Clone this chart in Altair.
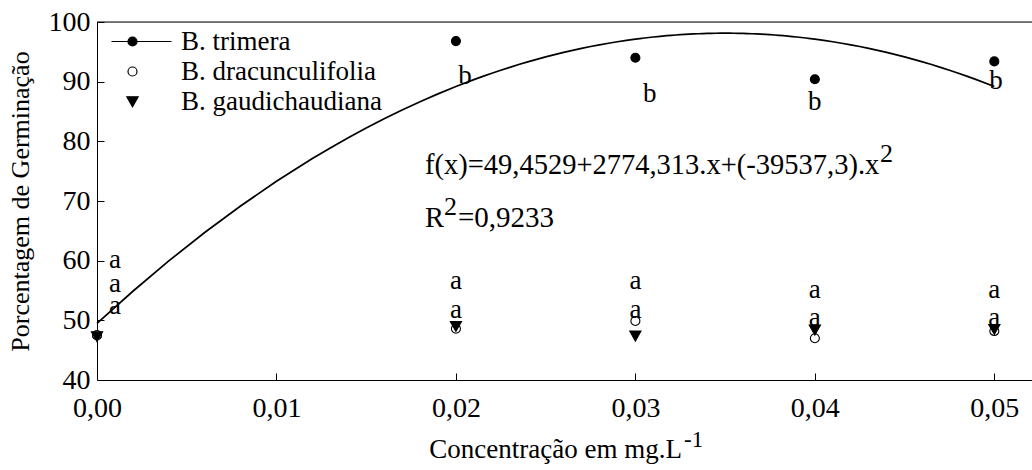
import altair as alt
import pandas as pd

FONT = "Liberation Serif"

series = ["B. trimera", "B. dracunculifolia", "B. gaudichaudiana"]
conc = [0.00, 0.02, 0.03, 0.04, 0.05]
trimera = [47.5, 96.8, 94.0, 90.4, 93.4]
dracunculifolia = [47.5, 48.6, 49.9, 47.0, 48.2]
gaudichaudiana = [47.3, 49.0, 47.4, 48.4, 48.5]

a_x = [0.001, 0.001, 0.001, 0.02, 0.02, 0.03, 0.03, 0.04, 0.04, 0.05, 0.05]
a_y = [59.8, 55.8, 52.1, 56.3, 51.4, 56.3, 51.4, 54.75, 50.1, 54.75, 50.1]
b_x = [0.0205, 0.0308, 0.040, 0.0501]
b_y = [91.1, 88.1, 86.8, 90.3]

x_ticks = [0.0, 0.01, 0.02, 0.03, 0.04, 0.05]
y_ticks = [40, 50, 60, 70, 80, 90, 100]

formula = "f(x)=49,4529+2774,313.x+(-39537,3).x"
sup2 = "2"
r_label = "R"
r_value = "=0,9233"
x_title = "Concentração em mg.L"
x_title_sup = "-1"
y_title = "Porcentagem de Germinação"

W, H = 935, 358

df = pd.DataFrame({
    "conc": conc * 3,
    "value": trimera + dracunculifolia + gaudichaudiana,
    "series": [series[0]] * 5 + [series[1]] * 5 + [series[2]] * 5,
})
df_tri = pd.DataFrame({"conc": conc, "value": trimera})
df_a = pd.DataFrame({"x": a_x, "y": a_y, "t": ["a"] * len(a_x)})
df_b = pd.DataFrame({"x": b_x, "y": b_y, "t": ["b"] * len(b_x)})

xs = alt.Scale(domain=[0, 0.0521], nice=False, zero=False)
ys = alt.Scale(domain=[40, 100], nice=False, zero=False)

label_kw = dict(labelFont=FONT, labelFontSize=28, labelColor="black",
                domainColor="black", tickColor="black", grid=False,
                labelFlush=False, labelOverlap=False)

main_x_axis = alt.Axis(orient="bottom", values=x_ticks, tickSize=0, labelPadding=14,
                       labelExpr="replace(format(datum.value, '.2f'), '.', ',')",
                       title=None, **label_kw)
main_y_axis = alt.Axis(orient="left", values=y_ticks, tickSize=0, labelPadding=7,
                       format="d", title=y_title, titleFont=FONT, titleFontSize=26,
                       titleFontWeight="normal", titleColor="black",
                       titleX=-77, titleY=H / 2, titleAngle=270,
                       titleAlign="center", titleBaseline="middle", **label_kw)
tick_x_axis = alt.Axis(orient="bottom", values=x_ticks[1:], offset=-7, tickSize=7,
                       labels=False, domain=False, title=None, grid=False,
                       tickColor="black")
tick_y_axis = alt.Axis(orient="left", values=y_ticks[1:], offset=-7, tickSize=7,
                       labels=False, domain=False, title=None, grid=False,
                       tickColor="black")

curve = alt.Chart(df_tri).transform_regression(
    "conc", "value", method="poly", order=2, extent=[0, 0.05]
).mark_line(color="black", strokeWidth=1.7).encode(
    x=alt.X("conc:Q", scale=xs, axis=tick_x_axis),
    y=alt.Y("value:Q", scale=ys, axis=tick_y_axis),
)

tri_down = "M-1.25,-1.05L1.25,-1.05L0,1.15Z"
trimera_sym = ("M-4.67,0L8.67,0M0,-1A1,1,0,1,1,0,1"
               "A1,1,0,1,1,0,-1Z")

points = alt.Chart(df).mark_point(size=81, stroke="black", strokeWidth=1.1,
                                  opacity=1).encode(
    x=alt.X("conc:Q", scale=xs, axis=main_x_axis),
    y=alt.Y("value:Q", scale=ys, axis=main_y_axis),
    shape=alt.Shape("series:N", scale=alt.Scale(domain=series,
                    range=["circle", "circle", tri_down]), legend=None),
    fill=alt.Fill("series:N", scale=alt.Scale(domain=series,
                  range=["black", "white", "black"]), legend=None),
)

a_text = alt.Chart(df_a).mark_text(font=FONT, fontSize=27, color="black",
                                   baseline="alphabetic", dy=6).encode(
    x=alt.X("x:Q", scale=xs, axis=None),
    y=alt.Y("y:Q", scale=ys, axis=None),
    text="t:N",
)
b_text = alt.Chart(df_b).mark_text(font=FONT, fontSize=27, color="black",
                                   baseline="alphabetic", dy=9).encode(
    x=alt.X("x:Q", scale=xs, axis=None),
    y=alt.Y("y:Q", scale=ys, axis=None),
    text="t:N",
)


def label(txt, x, y, size, align="left"):
    return alt.Chart(pd.DataFrame({"t": [txt]})).mark_text(
        font=FONT, fontSize=size, color="black", align=align,
        baseline="alphabetic").encode(
        text="t:N", x=alt.value(x), y=alt.value(y))


ann = [
    label(formula, 328, 152, 28.5),
    label(sup2, 783, 140, 26),
    label(r_label, 328, 205, 28.5),
    label(sup2, 347, 193, 26),
    label(r_value, 361, 205, 29),
    label(x_title, 585, 436, 27, align="right"),
    label(x_title_sup, 587, 425, 23),
]

leg = alt.Legend(orient="none", legendX=22, legendY=6, title=None,
                 labelFont=FONT, labelFontSize=27, labelColor="black", labelLimit=0,
                 symbolSize=81, symbolStrokeColor="black", symbolStrokeWidth=1.2,
                 symbolOpacity=1, rowPadding=2, labelOffset=35, padding=0)
legend_layer = alt.Chart(df).transform_filter("false").mark_point(
    opacity=1, stroke="black").encode(
    shape=alt.Shape("series:N", scale=alt.Scale(domain=series,
                    range=[trimera_sym, "circle", tri_down]), legend=leg),
    fill=alt.Fill("series:N", scale=alt.Scale(domain=series,
                  range=["black", "white", "black"]), legend=leg),
    stroke=alt.Stroke("series:N", scale=alt.Scale(domain=series,
                      range=["black", "black", "black"]), legend=leg),
)

top_border = alt.Chart(pd.DataFrame({"t": [0]})).mark_rule(
    color="black", strokeWidth=1).encode(
    x=alt.value(0), x2=alt.value(W), y=alt.value(0))

chart = alt.layer(curve, points, a_text, b_text, *ann, legend_layer, top_border).resolve_axis(
    x="independent", y="independent"
).resolve_scale(shape="independent", fill="independent", stroke="independent").properties(
    width=W, height=H,
    padding={"left": 97, "top": 22, "right": 0, "bottom": 90},
    autosize=alt.AutoSizeParams(type="none"),
).configure_view(stroke="transparent").configure(font=FONT)

chart.save("out.html", embed_options={"renderer": "svg", "actions": False})
